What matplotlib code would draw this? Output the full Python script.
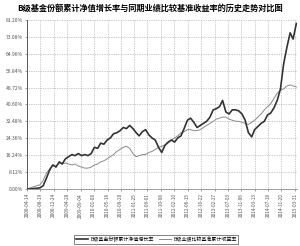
import matplotlib
matplotlib.use("Agg")
import matplotlib.pyplot as plt
import matplotlib.dates as mdates
import pandas as pd

plt.rcParams['font.family'] = ['Noto Sans CJK SC', 'DejaVu Sans']

title = "B级基金份额累计净值增长率与同期业绩比较基准收益率的历史走势对比图"
label_fund = "B级基金份额累计净值增长率"
label_bench = "B级业绩比较基准累计收益率"

start_month = "2008-04-14"
fund_b = [0, 0, 0.2, 0.3, 0.5, 1.5, 5, 9, 11.5, 10.5, 13, 12, 14.5, 15.5, 16.5, 16, 17, 16,
          16.5, 16, 17, 20, 19.5, 22, 21.5, 23.5, 24.5, 26.5, 27, 28, 29.5, 29, 30.5, 29,
          27, 25.5, 27.5, 28.5, 26, 24.5, 23.5, 20, 17.5, 21, 22.5, 23.5, 22.5, 24.5, 25.5,
          29, 33, 34, 32, 29.5, 30.5, 31.5, 32.5, 34.5, 38, 38.5, 39.5, 42.5, 37, 36, 38, 38,
          37.5, 36, 33, 27, 25, 28.5, 30, 31.5, 32.5, 35.5, 36.5, 39, 42.5, 48, 60, 68, 75,
          72, 79.5]
bench = [0, 0.5, 1, 1.5, 2, 4, 7.5, 9.5, 11.5, 11, 12.5, 12, 12.5, 12, 11.5, 12, 11, 10.5,
         10, 10, 10.5, 11.5, 12, 13, 13.5, 14.5, 15.5, 16.5, 18, 19, 20, 20.5, 19.5, 17,
         15.5, 16, 16.5, 16.5, 17.5, 18, 19, 20, 20.5, 21, 22, 23.5, 24.5, 25.5, 27, 27.5,
         28.5, 28.5, 28, 28, 28.5, 29.5, 30.5, 31.5, 32.5, 33.5, 34, 34.5, 34.5, 33.5, 33,
         32.5, 32.5, 32, 31.5, 31, 32, 33, 34.5, 36, 38, 39.5, 41, 43.5, 46, 47.5, 48, 49.5,
         50, 49.5, 49]

tick_dates = ["2008-04-14", "2008-08-19", "2008-12-24", "2009-04-28", "2009-09-04",
              "2010-01-08", "2010-05-18", "2010-09-20", "2011-01-25", "2011-06-01",
              "2011-10-08", "2012-02-10", "2012-06-15", "2012-10-22", "2013-02-27",
              "2013-07-03", "2013-11-06", "2014-03-13", "2014-07-18", "2014-11-20",
              "2015-03-31"]
y_ticks = [0.00, 8.12, 16.24, 24.36, 32.48, 40.60, 48.72, 56.84, 64.96, 73.08, 81.20]

dates = pd.date_range(start_month, periods=len(fund_b), freq=pd.DateOffset(months=1))
tdates = pd.to_datetime(tick_dates)

fig = plt.figure(figsize=(3.0, 2.46), dpi=100)
ax = fig.add_axes([0.09, 0.232, 0.90, 0.687])

ax.plot(dates, bench, color='#8a8a8a', lw=0.7)
ax.plot(dates, fund_b, color='#333333', lw=1.2)

ax.set_ylim(0, 81.2)
ax.set_xlim(tdates[0], pd.Timestamp("2015-04-20"))
ax.set_yticks(y_ticks)
ax.set_yticklabels([f"{v:.2f}%" for v in y_ticks], fontsize=3.6, color='#444444')
ax.set_xticks(tdates)
ax.set_xticklabels(tick_dates, rotation=90, fontsize=3.4, color='#444444')
ax.tick_params(axis='both', length=1.5, width=0.4, pad=1.5, colors='#555555')
ax.grid(True, linestyle=(0, (1, 1.5)), color='#999999', lw=0.5)
for s in ['top', 'right']:
    ax.spines[s].set_visible(False)
ax.spines['left'].set_color('#444444')
ax.spines['bottom'].set_color('#777777')
ax.spines['left'].set_linewidth(0.6)
ax.spines['bottom'].set_linewidth(0.5)

fig.text(0.5, 0.968, title, ha='center', va='center', fontsize=5.9, fontweight='bold')

leg = fig.legend([ax.lines[1], ax.lines[0]], [label_fund, label_bench],
                 loc='center', bbox_to_anchor=(0.52, 0.027), ncol=2, fontsize=3.6,
                 frameon=True, fancybox=False, edgecolor='#222222', handlelength=2.5,
                 borderpad=0.4, columnspacing=1.0, handletextpad=0.4)
leg.get_frame().set_linewidth(0.5)

fig.savefig("out.png", dpi=100)
